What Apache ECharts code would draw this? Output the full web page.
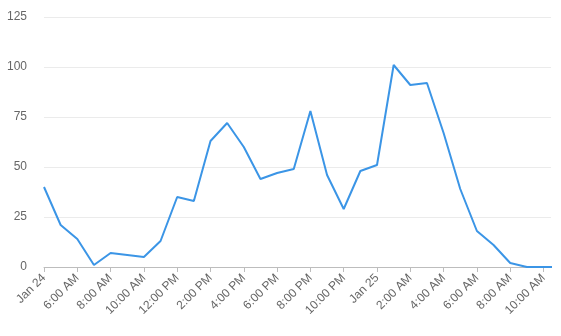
<!DOCTYPE html>
<html>
<head>
<meta charset="utf-8">
<script src="https://cdn.jsdelivr.net/npm/echarts@6/dist/echarts.min.js"></script>
<style>
html,body{margin:0;padding:0;background:#fff;}
#c{width:561px;height:336px;}
</style>
</head>
<body>
<div id="c"></div>
<script>
// hours since Jan 24, 4:00 AM
const hours = [0,1,2,3,4,5,6,7,8,9,10,11,12,13,14,15,16,17,18,19,20,21,22,23,24,25,26,27,28,29,30,31];
const values = [40,21,14,1,7,6,5,13,35,33,63,72,60,44,47,49,78,46,29,48,51,101,91,92,67,39,18,11,2,0,0,0];
const tickHours = [0,2,4,6,8,10,12,14,16,18,20,22,24,26,28,30];
const tickLabels = ['Jan 24','6:00 AM','8:00 AM','10:00 AM','12:00 PM','2:00 PM','4:00 PM','6:00 PM','8:00 PM','10:00 PM','Jan 25','2:00 AM','4:00 AM','6:00 AM','8:00 AM','10:00 AM'];
const yTicks = [0,25,50,75,100,125];

const chart = echarts.init(document.getElementById('c'), null, {renderer:'canvas'});
chart.setOption({
  animation:false,
  grid:{left:44,right:10,top:17,bottom:69},
  xAxis:{
    type:'value',
    min:0,
    max:30.45,
    axisLine:{show:true,lineStyle:{color:'#bdbdbd',width:1}},
    axisTick:{show:true,length:5,lineStyle:{color:'#bdbdbd'},customValues:tickHours},
    splitLine:{show:false},
    axisLabel:{
      customValues:tickHours,
      rotate:45,
      margin:9,
      color:'#666',
      fontSize:12,
      fontFamily:'Liberation Sans, Arial, sans-serif',
      formatter:function(v){const i=tickHours.indexOf(Math.round(v));return i>=0?tickLabels[i]:'';}
    }
  },
  yAxis:{
    type:'value',
    min:0,
    max:125,
    interval:25,
    axisLine:{show:false},
    axisTick:{show:false},
    splitLine:{lineStyle:{color:'#ebebeb',width:1}},
    axisLabel:{color:'#666',fontSize:12,margin:17,fontFamily:'Liberation Sans, Arial, sans-serif'}
  },
  series:[{
    type:'line',
    data:hours.map((h,i)=>[h,values[i]]),
    showSymbol:false,
    symbol:'none',
    clip:true,
    lineStyle:{color:'#3b95e6',width:2},
    itemStyle:{color:'#3b95e6'}
  }]
});
</script>
</body>
</html>
